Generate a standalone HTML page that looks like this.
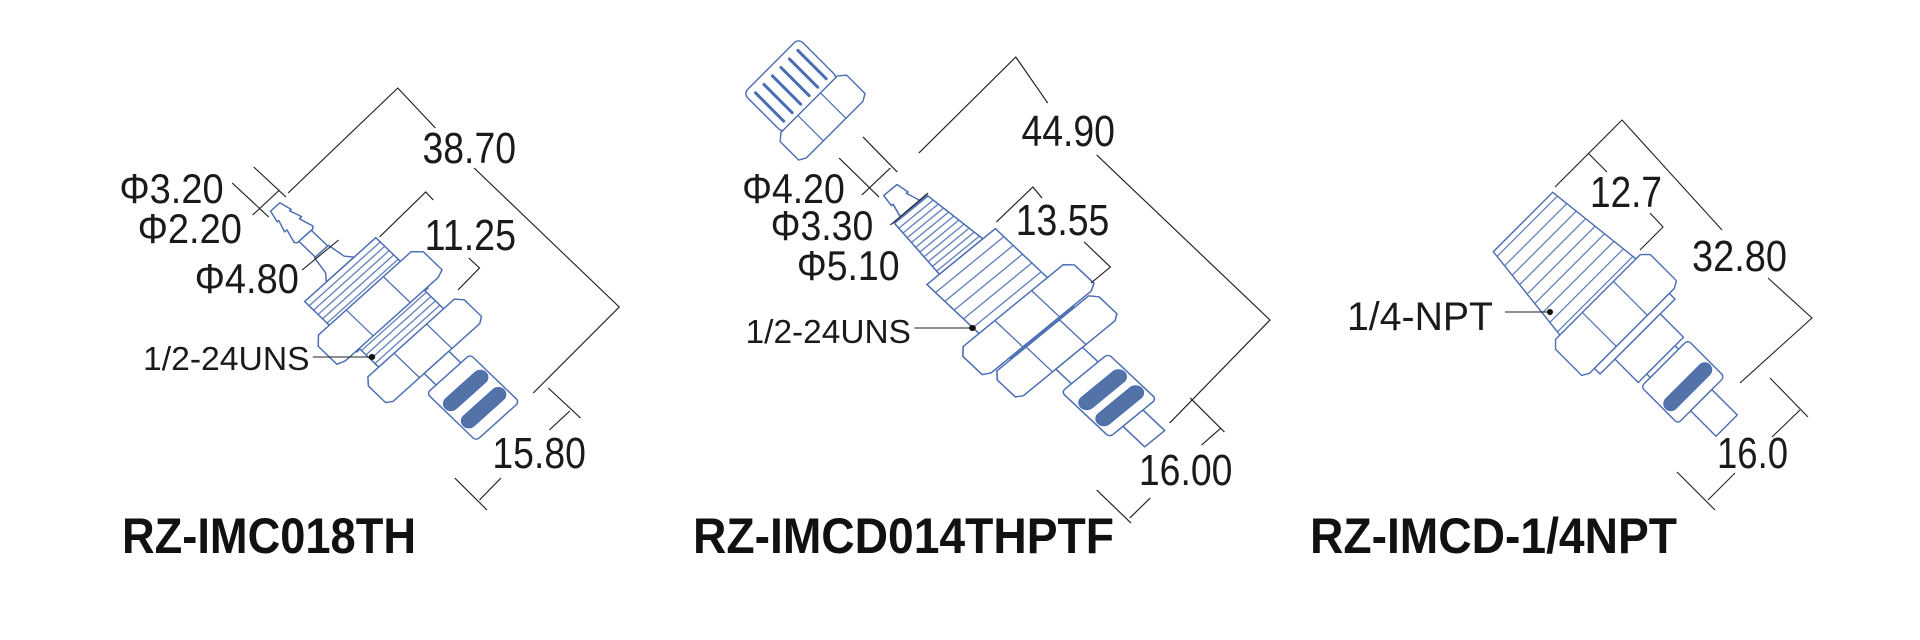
<!DOCTYPE html>
<html><head><meta charset="utf-8"><style>
html,body{margin:0;padding:0;background:#fff;width:1920px;height:640px;overflow:hidden}
svg{display:block}
.p{fill:#fff;stroke:#4a6db3;stroke-width:1.4;stroke-linejoin:round}
.l{stroke:#4a6db3;stroke-width:1.2;fill:none}
.d{stroke:#222;stroke-width:1.1;fill:none}
.r{fill:#5272a8;stroke:#4a6db3;stroke-width:1}
.t{font-family:"Liberation Sans","DejaVu Sans",sans-serif;fill:#1a1a1a;font-weight:300}
.b{font-family:"Liberation Sans","DejaVu Sans",sans-serif;fill:#111;font-weight:bold}
</style></head><body>
<svg width="1920" height="640" viewBox="0 0 1920 640" xmlns="http://www.w3.org/2000/svg">
<defs>
<pattern id="th" patternUnits="userSpaceOnUse" width="6" height="10"><rect width="6" height="10" fill="#fff"/><line x1="3" y1="0" x2="3" y2="10" stroke="#4a6db3" stroke-width="1.1"/></pattern>
<pattern id="th2" patternUnits="userSpaceOnUse" width="12" height="10"><rect width="12" height="10" fill="#fff"/><line x1="6" y1="0" x2="6" y2="10" stroke="#4a6db3" stroke-width="1.1"/></pattern>
</defs>

<!-- ===== PART 1 ===== -->
<g transform="translate(100,0) scale(1.075,1) translate(-100,0)">
<g transform="translate(263,207) rotate(46)">
 <polygon class="p" points="0,-6 12,-9 12,-7 24,-11 24,-8 38,-12 40,-10 40,10 38,12 24,8 24,11 12,7 12,9 0,6"/>
 <rect class="p" x="40" y="-8" width="22" height="16"/>
 <polygon class="p" points="62,-9 80,-12 87,-18 87,18 80,12 62,9"/>
 <rect x="87" y="-46" width="70" height="92" fill="url(#th)" stroke="#4a6db3" stroke-width="1.4"/>
 <rect x="150" y="-42" width="40" height="84" fill="url(#th)" stroke="#4a6db3" stroke-width="1.4"/>
 <polygon class="p" points="120,-60 128,-68 153,-68 156,-60 156,60 153,68 128,68 120,60"/>
 <line class="l" x1="120" y1="-24" x2="156" y2="-24"/><line class="l" x1="120" y1="24" x2="156" y2="24"/>
 <polygon class="p" points="182,-56 189,-62 212,-62 216,-56 216,56 212,62 189,62 182,56"/>
 <line class="l" x1="182" y1="-20" x2="216" y2="-20"/><line class="l" x1="182" y1="22" x2="216" y2="22"/>
 <rect class="p" x="216" y="-16" width="18" height="32"/>
 <rect class="p" x="232" y="-28" width="66" height="56" rx="4"/>
 <rect class="r" x="248" y="-26" width="14" height="52" rx="7"/>
 <rect class="r" x="272" y="-26" width="14" height="52" rx="7"/>
</g>
<g>
 <polyline class="d" points="275,193 377,88 412,128"/>
 <polyline class="d" points="448,168 583,307 503,393"/>
 <line class="d" x1="243" y1="167" x2="273" y2="197"/>
 <line class="d" x1="223" y1="183" x2="257" y2="217"/>
 <line class="d" x1="242" y1="215" x2="267" y2="190"/>
 <line class="d" x1="288" y1="270" x2="322" y2="240"/>
 <polyline class="d" points="360,237 403,192 410,200"/>
 <polyline class="d" points="443,258 453,268 433,290"/>
 <polyline class="d" points="517,388 547,418"/><line class="d" x1="518" y1="430" x2="537" y2="411"/>
 <polyline class="d" points="430,478 460,510"/><line class="d" x1="453" y1="500" x2="473" y2="478"/>
 <line class="d" x1="298" y1="357" x2="353" y2="357"/><circle cx="353" cy="357" r="3" fill="#111"/>
 <text class="t" x="400" y="163" font-size="44" textLength="87" lengthAdjust="spacingAndGlyphs">38.70</text>
 <text class="t" x="118" y="203" font-size="42" textLength="97" lengthAdjust="spacingAndGlyphs">Φ3.20</text>
 <text class="t" x="135" y="243" font-size="42" textLength="97" lengthAdjust="spacingAndGlyphs">Φ2.20</text>
 <text class="t" x="188" y="293" font-size="42" textLength="97" lengthAdjust="spacingAndGlyphs">Φ4.80</text>
 <text class="t" x="402" y="250" font-size="44" textLength="85" lengthAdjust="spacingAndGlyphs">11.25</text>
 <text class="t" x="140" y="370" font-size="33" textLength="155" lengthAdjust="spacingAndGlyphs">1/2-24UNS</text>
 <text class="t" x="465" y="468" font-size="44" textLength="87" lengthAdjust="spacingAndGlyphs">15.80</text>
</g>
</g>
<text class="b" x="122" y="553" font-size="50" textLength="294" lengthAdjust="spacingAndGlyphs">RZ-IMC018TH</text>

<!-- ===== PART 2 ===== -->
<g transform="translate(771,66) rotate(45)">
 <rect class="p" x="0" y="-39" width="56" height="78" rx="6"/>
 <g stroke="#4a6db3" stroke-width="3" stroke-linecap="round">
  <line x1="8" y1="-30" x2="48" y2="-30"/><line x1="8" y1="-18" x2="48" y2="-18"/><line x1="8" y1="-6" x2="48" y2="-6"/>
  <line x1="8" y1="6" x2="48" y2="6"/><line x1="8" y1="18" x2="48" y2="18"/><line x1="8" y1="30" x2="48" y2="30"/>
 </g>
 <polygon class="p" points="54,-40 60,-47 86,-47 90,-40 90,40 86,47 60,47 54,40"/>
 <line class="l" x1="54" y1="-16" x2="90" y2="-16"/><line class="l" x1="54" y1="16" x2="90" y2="16"/>
</g>
<g transform="translate(700,0) scale(1.14,1) translate(-700,0)">
<g transform="translate(867,190) rotate(47)">
 <polygon class="p" points="0,-8 12,-10 12,-8 26,-12 26,12 12,8 12,10 0,8"/>
 <polygon points="26,-20 91,-26 91,26 26,20" fill="url(#th)" stroke="#4a6db3" stroke-width="1.4"/>
 <rect x="91" y="-41" width="70" height="82" fill="url(#th2)" stroke="#4a6db3" stroke-width="1.4"/>
 <rect x="160" y="-38" width="40" height="76" fill="url(#th)" stroke="#4a6db3" stroke-width="1.4"/>
 <polygon class="p" points="158,-60 165,-67 190,-67 194,-60 194,60 190,67 165,67 158,60"/>
 <line class="l" x1="158" y1="-22" x2="194" y2="-22"/><line class="l" x1="158" y1="22" x2="194" y2="22"/>
 <polygon class="p" points="196,-55 203,-61 226,-61 230,-55 230,55 226,61 203,61 196,55"/>
 <line class="l" x1="196" y1="-20" x2="230" y2="-20"/><line class="l" x1="196" y1="20" x2="230" y2="20"/>
 <rect class="p" x="230" y="-16" width="22" height="32"/>
 <rect class="p" x="250" y="-28" width="62" height="56" rx="4"/>
 <rect class="r" x="266" y="-26" width="14" height="52" rx="7"/>
 <rect class="r" x="288" y="-26" width="14" height="52" rx="7"/>
 <rect class="p" x="312" y="-12" width="28" height="24"/>
</g>
<g>
 <polyline class="d" points="892,153 977,57 1005,103"/>
 <polyline class="d" points="1048,155 1200,320 1112,423"/>
 <line class="d" x1="843" y1="137" x2="873" y2="172"/>
 <line class="d" x1="822" y1="158" x2="857" y2="197"/>
 <line class="d" x1="842" y1="195" x2="867" y2="168"/>
 <line class="d" x1="867" y1="225" x2="900" y2="193"/>
 <polyline class="d" points="960,222 992,187 1000,198"/>
 <polyline class="d" points="1037,242 1060,267 1043,283"/>
 <line class="d" x1="1130" y1="398" x2="1160" y2="432"/><line class="d" x1="1140" y1="445" x2="1157" y2="428"/>
 <line class="d" x1="1048" y1="490" x2="1078" y2="523"/><line class="d" x1="1077" y1="518" x2="1095" y2="498"/>
 <line class="d" x1="888" y1="328" x2="939" y2="328"/><circle cx="939" cy="328" r="3" fill="#111"/>
 <text class="t" x="982" y="146" font-size="44" textLength="82" lengthAdjust="spacingAndGlyphs">44.90</text>
 <text class="t" x="737" y="203" font-size="42" textLength="90" lengthAdjust="spacingAndGlyphs">Φ4.20</text>
 <text class="t" x="762" y="240" font-size="42" textLength="90" lengthAdjust="spacingAndGlyphs">Φ3.30</text>
 <text class="t" x="785" y="280" font-size="42" textLength="90" lengthAdjust="spacingAndGlyphs">Φ5.10</text>
 <text class="t" x="977" y="235" font-size="44" textLength="82" lengthAdjust="spacingAndGlyphs">13.55</text>
 <text class="t" x="740" y="343" font-size="33" textLength="145" lengthAdjust="spacingAndGlyphs">1/2-24UNS</text>
 <text class="t" x="1085" y="485" font-size="44" textLength="82" lengthAdjust="spacingAndGlyphs">16.00</text>
</g>
</g>
<text class="b" x="693" y="553" font-size="50" textLength="421" lengthAdjust="spacingAndGlyphs">RZ-IMCD014THPTF</text>

<!-- ===== PART 3 ===== -->
<g transform="translate(1523,222) rotate(45)">
 <polygon points="0,-42 108,-54 108,54 0,42" fill="url(#th2)" stroke="#4a6db3" stroke-width="1.4"/>
 <polygon class="p" points="106,-60 113,-67 150,-67 154,-60 154,60 150,67 113,67 106,60"/>
 <line class="l" x1="106" y1="-22" x2="154" y2="-22"/><line class="l" x1="106" y1="22" x2="154" y2="22"/>
 <rect class="p" x="154" y="-53" width="8" height="106"/>
 <rect class="p" x="162" y="-32" width="33" height="64"/>
 <rect class="p" x="195" y="-20" width="6" height="40"/>
 <rect class="p" x="200" y="-33" width="52" height="66" rx="4"/>
 <rect class="r" x="226" y="-31" width="14" height="62" rx="7"/>
 <rect class="p" x="252" y="-15" width="36" height="30"/>
</g>
<g>
 <polyline class="d" points="1555,187 1622,120 1722,230"/>
 <polyline class="d" points="1768,278 1812,318 1740,383"/>
 <polyline class="d" points="1588,153 1607,172"/>
 <polyline class="d" points="1650,213 1663,227 1640,250"/>
 <line class="d" x1="1770" y1="378" x2="1808" y2="417"/><line class="d" x1="1800" y1="410" x2="1772" y2="437"/>
 <line class="d" x1="1677" y1="472" x2="1715" y2="510"/><line class="d" x1="1708" y1="500" x2="1735" y2="473"/>
 <line class="d" x1="1505" y1="312" x2="1550" y2="312"/><circle cx="1550" cy="312" r="3" fill="#111"/>
 <text class="t" x="1692" y="271" font-size="44" textLength="95" lengthAdjust="spacingAndGlyphs">32.80</text>
 <text class="t" x="1590" y="207" font-size="44" textLength="72" lengthAdjust="spacingAndGlyphs">12.7</text>
 <text class="t" x="1347" y="330" font-size="40" textLength="146" lengthAdjust="spacingAndGlyphs">1/4-NPT</text>
 <text class="t" x="1717" y="468" font-size="44" textLength="71" lengthAdjust="spacingAndGlyphs">16.0</text>
</g>
<text class="b" x="1310" y="553" font-size="50" textLength="367" lengthAdjust="spacingAndGlyphs">RZ-IMCD-1/4NPT</text>
</svg>
</body></html>
